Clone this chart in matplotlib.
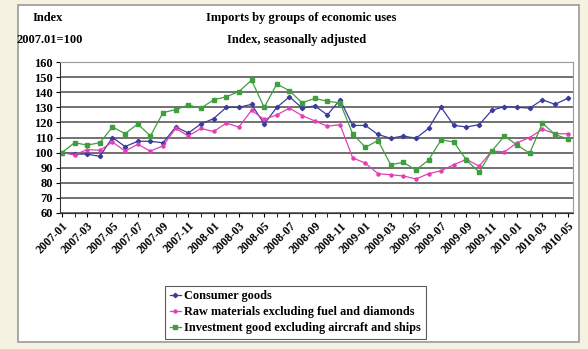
import matplotlib
matplotlib.use("Agg")
import matplotlib.pyplot as plt
from matplotlib.patches import Rectangle

# monthly index values, 2007-01 .. 2010-05
months = [f"{y}-{m:02d}" for y in range(2007, 2011) for m in range(1, 13)][:41]

consumer = [100, 99, 99, 97.5, 110, 104, 107.5, 107.5, 106.5, 117,
            113, 119, 122.5, 130, 130, 132, 119, 130, 137, 129.5,
            131, 125, 135, 118, 118, 112, 109.5, 111, 109.5, 116,
            130, 118, 117, 118.5, 128, 130.5, 130, 129.5, 135, 132,
            136]
raw = [100, 98.5, 102, 101.5, 107, 101, 105.5, 101, 104.5, 116,
       111, 116, 114, 119.5, 117, 128, 122, 125, 129.5, 124.5,
       121, 117.5, 118.5, 96.5, 93, 86, 85.3, 84.5, 82.5, 86,
       88, 92, 95.5, 91, 101, 100.5, 106.5, 110, 115.5, 112.5,
       112.5]
invest = [100, 106.5, 105, 106.5, 117, 112.5, 119, 111, 126.5, 128.5,
          131.5, 129.5, 135, 137, 140.5, 148, 130, 145.5, 141, 133,
          136, 134, 133, 112.5, 103.5, 108, 92, 93.5, 88.5, 95,
          108.5, 107, 95, 87, 101, 111, 105, 99.5, 119.5, 112,
          109]

labels = ["Consumer goods",
          "Raw materials excluding fuel and diamonds",
          "Investment good excluding aircraft and ships"]
colors = ["#3b3b9e", "#e23fb4", "#3f9f3f"]
markers = ["D", "o", "s"]

plt.rcParams['font.family'] = ['Liberation Serif', 'DejaVu Serif']
plt.rcParams['font.weight'] = 'bold'

fig = plt.figure(figsize=(5.88, 3.49), dpi=100, facecolor="#f6f2e2")
fig.patches.append(Rectangle((0.03, 0.02), 0.955, 0.965, transform=fig.transFigure,
                             facecolor="white", edgecolor="#9a9a9a", linewidth=1.2,
                             zorder=-5))

ax = fig.add_axes([0.102, 0.39, 0.872, 0.432])
ax.set_facecolor("white")

x = list(range(len(months)))
for ys, lab, c, mk in zip([consumer, raw, invest], labels, colors, markers):
    ax.plot(x, ys, color=c, linewidth=0.9, marker=mk, markersize=2.2, label=lab)

ax.set_ylim(60, 160)
ax.set_yticks(range(60, 161, 10))
ax.set_xlim(-0.15, 40.4)
ax.set_xticks(x[::2])
ax.set_xticks(x, minor=True)
ax.set_xticklabels(months[::2], rotation=45, ha="right", rotation_mode="anchor", fontsize=8.5)
ax.tick_params(axis="y", labelsize=9, length=3, pad=2)
ax.tick_params(axis="x", which="both", length=3, pad=2)
ax.grid(axis="y", color="#4a4a4a", linewidth=1.1)
ax.set_axisbelow(True)
for s in ["top", "right"]:
    ax.spines[s].set_color("#9a9a9a")
    ax.spines[s].set_linewidth(0.8)
for s in ["left", "bottom"]:
    ax.spines[s].set_color("#333333")

fig.text(0.082, 0.948, "Index", ha="center", va="center", fontsize=9)
fig.text(0.085, 0.885, "2007.01=100", ha="center", va="center", fontsize=9)
fig.text(0.512, 0.948, "Imports by groups of economic uses", ha="center", va="center", fontsize=9)
fig.text(0.505, 0.885, "Index, seasonally adjusted", ha="center", va="center", fontsize=9)

leg = fig.legend(loc="lower left", bbox_to_anchor=(0.27, 0.012), fontsize=8.8,
                 handlelength=0.9, handletextpad=0.3, borderpad=0.4, labelspacing=0.3,
                 frameon=True, fancybox=False, edgecolor="#333333")
leg.get_frame().set_linewidth(0.8)

fig.savefig("out.png", dpi=100, facecolor=fig.get_facecolor())
